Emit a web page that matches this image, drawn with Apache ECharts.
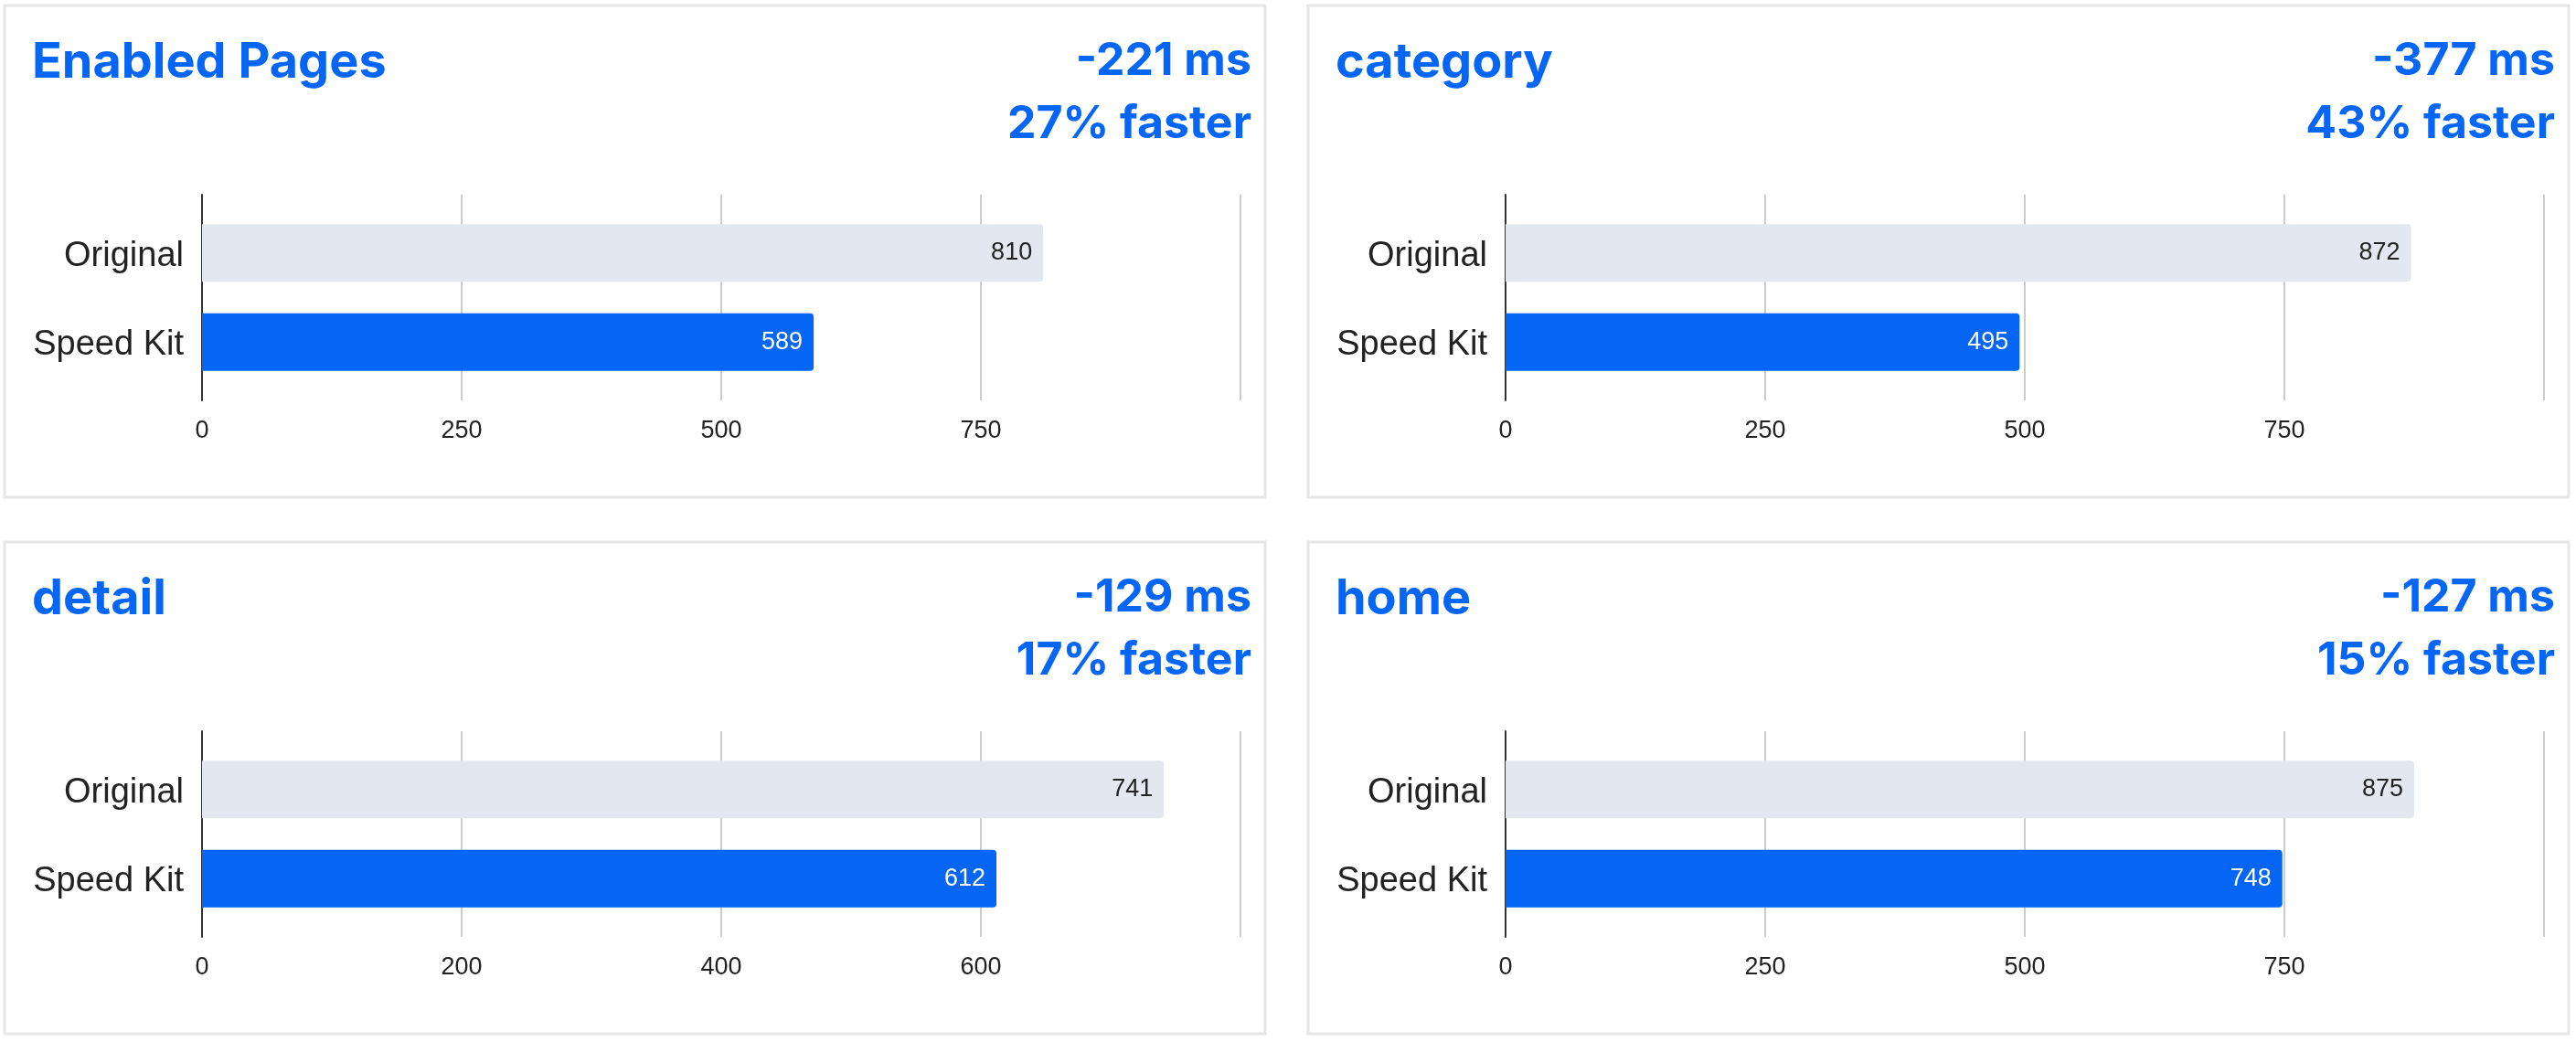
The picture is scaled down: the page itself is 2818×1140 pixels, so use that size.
<!DOCTYPE html>
<html>
<head>
<meta charset="utf-8">
<script src="https://cdn.jsdelivr.net/npm/echarts@6/dist/echarts.min.js"></script>
<style>
html, body { margin: 0; padding: 0; background: #ffffff; }
#main { width: 2818px; height: 1140px; }
</style>
</head>
<body>
<div id="main"></div>
<script>
// data
var panelNames = ['Enabled Pages', 'category', 'detail', 'home'];
var categories = ['Original', 'Speed Kit'];
var originalMs = [810, 872, 741, 875];
var speedKitMs = [589, 495, 612, 748];
var deltaLabels = ['-221 ms', '-377 ms', '-129 ms', '-127 ms'];
var fasterLabels = ['27% faster', '43% faster', '17% faster', '15% faster'];
var axisMax = [1000, 1000, 800, 1000];
var axisStep = [250, 250, 200, 250];

var chart = echarts.init(document.getElementById('main'));

var BLUE = '#0566f5';
var cardX = [5, 1431], cardY = [6, 593];
var cardW = 1379, cardH = 538;
var headFont = '700 50px Inter';

var titles = [], grids = [], xAxes = [], yAxes = [], series = [], graphics = [];

for (var i = 0; i < panelNames.length; i++) {
    var cx = cardX[i % 2], cy = cardY[Math.floor(i / 2)];

    graphics.push({
        type: 'rect',
        shape: { x: cx, y: cy, width: cardW, height: cardH },
        style: { fill: '#fff', stroke: '#e6e6e8', lineWidth: 3 },
        z: -10
    });
    // right-hand summary, two lines
    graphics.push({
        type: 'text',
        x: cx + cardW - 15, y: cy + 61,
        style: { text: deltaLabels[i], font: headFont, fill: BLUE, align: 'right', verticalAlign: 'middle' }
    });
    graphics.push({
        type: 'text',
        x: cx + cardW - 15, y: cy + 130,
        style: { text: fasterLabels[i], font: headFont, fill: BLUE, align: 'right', verticalAlign: 'middle' }
    });

    titles.push({
        text: panelNames[i],
        left: cx + 30,
        top: cy + 33,
        padding: 0,
        textStyle: { fontFamily: 'Inter', fontWeight: 700, fontSize: 54, color: BLUE, lineHeight: 60 }
    });

    grids.push({
        left: cx + 216,
        top: cy + 207,
        width: cardW - 216 - 27,
        height: 225
    });

    xAxes.push({
        gridIndex: i,
        type: 'value',
        min: 0,
        max: axisMax[i],
        interval: axisStep[i],
        axisLine: { show: false },
        axisTick: { show: false },
        splitLine: { lineStyle: { color: ['#333333', '#cccccc', '#cccccc', '#cccccc', '#cccccc'], width: 2 } },
        axisLabel: {
            showMaxLabel: false,
            margin: 20,
            fontFamily: 'Arial, Liberation Sans',
            fontSize: 27,
            lineHeight: 27,
            color: '#222'
        }
    });

    yAxes.push({
        gridIndex: i,
        type: 'category',
        inverse: true,
        data: categories,
        axisLine: { lineStyle: { color: '#333333', width: 2 } },
        axisTick: { show: false },
        axisLabel: {
            margin: 20,
            formatter: function (v) { return v === 'Original' ? '{o|' + v + '}' : '{s|' + v + '}'; },
            rich: {
                o: { fontFamily: 'Arial, Liberation Sans', fontSize: 38, color: '#222', padding: [22, 0, 0, 0] },
                s: { fontFamily: 'Arial, Liberation Sans', fontSize: 38, color: '#222', padding: [0, 0, 8, 0] }
            }
        }
    });

    // Speed Kit first: it takes the upper slot of the band, Original the lower one
    series.push({
        type: 'bar',
        xAxisIndex: i,
        yAxisIndex: i,
        barWidth: 63,
        barGap: '-76%',
        data: ['-', speedKitMs[i]],
        itemStyle: { color: BLUE, borderRadius: [0, 4, 4, 0] },
        label: {
            show: true, position: 'insideRight', distance: 12,
            fontFamily: 'Arial, Liberation Sans', fontSize: 27, color: '#ffffff'
        },
        silent: true
    });
    series.push({
        type: 'bar',
        xAxisIndex: i,
        yAxisIndex: i,
        barWidth: 63,
        barGap: '-76%',
        data: [originalMs[i], '-'],
        itemStyle: { color: '#e2e7f0', borderRadius: [0, 4, 4, 0] },
        label: {
            show: true, position: 'insideRight', distance: 12,
            fontFamily: 'Arial, Liberation Sans', fontSize: 27, color: '#222222'
        },
        silent: true
    });
}

var option = {
    animation: false,
    backgroundColor: '#ffffff',
    title: titles,
    grid: grids,
    xAxis: xAxes,
    yAxis: yAxes,
    series: series,
    graphic: graphics
};
chart.setOption(option);
</script>
</body>
</html>
